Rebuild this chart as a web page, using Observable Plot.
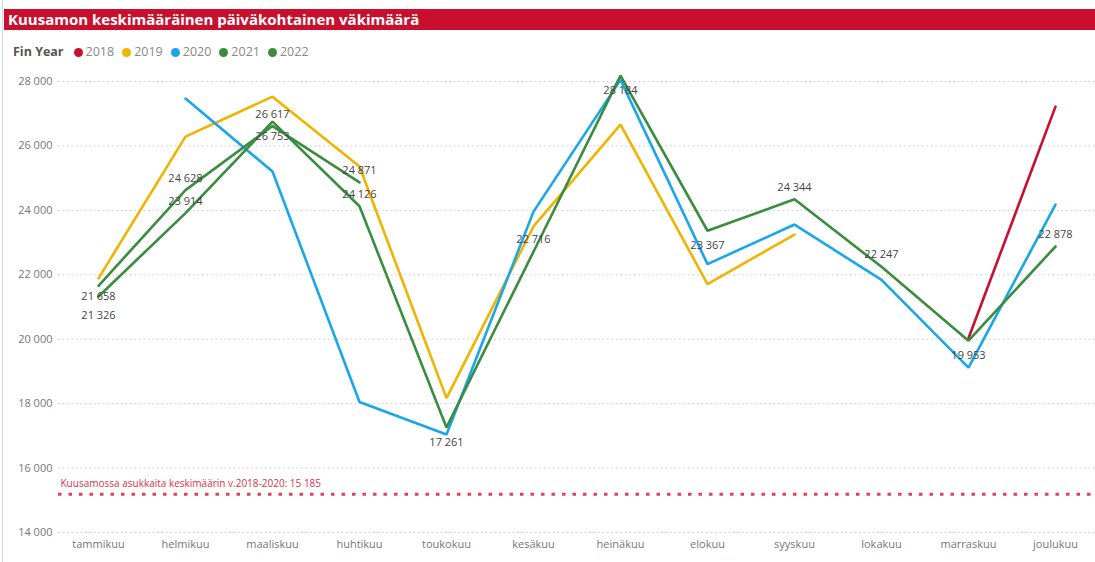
<!DOCTYPE html>
<html>
<head>
<meta charset="utf-8">
<script src="https://cdn.jsdelivr.net/npm/d3@7"></script>
<script src="https://cdn.jsdelivr.net/npm/@observablehq/plot@0.6"></script>
<style>
  html, body { margin: 0; padding: 0; background: #fff; overflow: hidden; }
  body { width: 1095px; height: 562px; position: relative; font-family: "Segoe UI", "Open Sans", sans-serif; }
  #border { position: absolute; left: 2px; top: 0; width: 1px; height: 562px; background: #d8d8d8; }
  #title { position: absolute; left: 4px; top: 9px; width: 1091px; height: 21px; background: #c8102e;
           color: #fff; font-weight: 700; font-size: 15px; line-height: 21px; padding-left: 4px; box-sizing: border-box;
           font-family: "Open Sans", sans-serif; white-space: nowrap; }
  #legend { position: absolute; left: 13px; top: 43px; height: 18px; font-size: 12.5px; line-height: 18px;
            font-family: "Open Sans", sans-serif; display: flex; align-items: center; white-space: nowrap; }
  #legend .head { font-weight: 700; color: #555; margin-right: 10px; }
  #legend .item { display: flex; align-items: center; color: #888; margin-right: 8px; }
  #legend .dot { width: 9px; height: 9px; border-radius: 50%; margin-right: 3px; }
  #chart { position: absolute; left: 0; top: 62px; }
</style>
</head>
<body>
<div id="border"></div>
<div id="title">Kuusamon keskimääräinen päiväkohtainen väkimäärä</div>
<div id="legend"></div>
<div id="chart"></div>
<script>
const months = ["tammikuu","helmikuu","maaliskuu","huhtikuu","toukokuu","kesäkuu","heinäkuu","elokuu","syyskuu","lokakuu","marraskuu","joulukuu"];
const years = ["2018","2019","2020","2021","2022"];
const colors = ["#c8102e","#f0b400","#19a6ea","#3a8c3f","#3a8c3f"];
const v2018 = [null,null,null,null,null,null,null,null,null,null,20030,27220];
const v2019 = [21890,26290,27530,25360,18170,23500,26660,21710,23250,null,null,null];
const v2020 = [null,27470,25205,18050,17040,23960,28050,22330,23560,21840,19118,24180];
const v2021 = [21326,23914,26753,24126,17261,22716,28184,23367,24344,22247,19953,22878];
const v2022 = [21658,24628,26617,24871,null,null,null,null,null,null,null,null];
const labeledYears = ["2022","2021"];
const yTicks = [14000,16000,18000,20000,22000,24000,26000,28000];
const refValue = 15185;
const refLabel = "Kuusamossa asukkaita keskimäärin v.2018-2020: 15 185";

const fmt = v => d3.format(",")(v).replace(/,/g, " ");

const seriesValues = {"2018": v2018, "2019": v2019, "2020": v2020, "2021": v2021, "2022": v2022};
const data = [];
for (const y of years) seriesValues[y].forEach((v, i) => { if (v != null) data.push({year: y, month: months[i], value: v}); });

// label placement rule: below for the first point of a series, interior local minima, or values above the top tick;
// otherwise above. Near-collisions in the same month are resolved by stacking.
const labels = [];
for (const y of labeledYears) {
  const vals = seriesValues[y];
  vals.forEach((v, i) => {
    if (v == null) return;
    const prev = i > 0 ? vals[i-1] : null, next = i < vals.length-1 ? vals[i+1] : null;
    const isFirst = prev == null;
    const isMin = prev != null && next != null && v < prev && v < next;
    let side = (isFirst || isMin || v > yTicks[yTicks.length-1]) ? "below" : "above";
    const clash = labels.find(l => l.month === months[i] && l.side.startsWith(side === "above" ? "above" : "below") && Math.abs(l.value - v) < 500);
    if (clash) {
      if (side === "above") side = "below";
      else {
        const hi = clash.value > v ? clash : null;
        if (hi) { hi.side = "belowNear"; side = "belowFar"; }
        else { clash.side = "belowFar"; side = "belowNear"; }
      }
    }
    labels.push({month: months[i], value: v, side, text: fmt(v)});
  });
}
const offsets = {above: -12, below: 15, belowNear: 11, belowFar: 19};

// legend
const lg = document.getElementById("legend");
lg.innerHTML = `<span class="head">Fin Year</span>` + years.map((y, i) =>
  `<span class="item"><span class="dot" style="background:${colors[i]}"></span>${y}</span>`).join("");

const chart = Plot.plot({
  width: 1095,
  height: 500,
  marginTop: 19,
  marginBottom: 30,
  marginLeft: 58,
  marginRight: 0,
  style: {fontFamily: "'Segoe UI', 'Open Sans', sans-serif", fontSize: "11px", color: "#777", background: "transparent"},
  x: {type: "point", domain: months, padding: 0.42, label: null},
  y: {domain: [14000, 28000], label: null},
  color: {domain: years, range: colors},
  marks: [
    Plot.ruleY(yTicks, {stroke: "#c8c8c8", strokeDasharray: "1.5,3", strokeWidth: 1}),
    Plot.axisY(yTicks, {tickSize: 0, tickPadding: 6, tickFormat: fmt, label: null, fontSize: 11}),
    Plot.axisX({tickSize: 0, tickPadding: 8, label: null, fontSize: 11}),
    Plot.ruleY([refValue], {stroke: "#e0405a", strokeWidth: 3, strokeDasharray: "3.5,7"}),
    Plot.text([refLabel], {frameAnchor: "left", y: () => refValue, dx: 2, dy: -11, textAnchor: "start", fill: "#d9304a", fontSize: 10}),
    Plot.line(data, {x: "month", y: "value", z: "year", stroke: "year", strokeWidth: 2.6, strokeLinejoin: "miter"}),
    ...Object.entries(offsets).map(([side, dy]) =>
      Plot.text(labels.filter(d => d.side === side), {x: "month", y: "value", text: "text", dy, fill: "#444", fontSize: 11}))
  ]
});
document.getElementById("chart").appendChild(chart);
</script>
</body>
</html>
